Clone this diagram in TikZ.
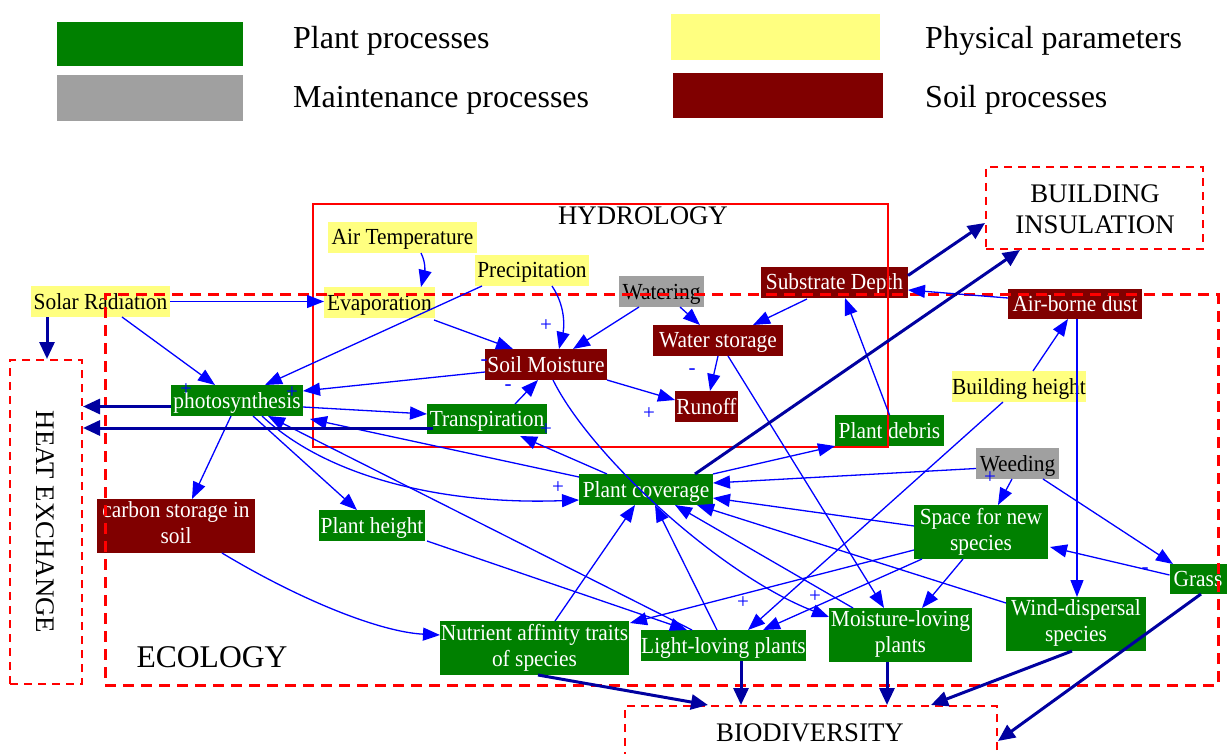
\documentclass[tikz,border=0pt]{standalone}
\usepackage{fontspec}
\setmainfont{Liberation Serif}
\newfontfamily\narrowserif[FakeStretch=0.93]{Liberation Serif}
\usetikzlibrary{arrows.meta}

\definecolor{plantgreen}{RGB}{0,128,0}
\definecolor{soilred}{RGB}{128,0,0}
\definecolor{physyellow}{RGB}{255,255,128}
\definecolor{maintgray}{RGB}{160,160,160}
\definecolor{linkblue}{RGB}{0,0,255}
\definecolor{flownavy}{RGB}{0,0,160}
\definecolor{groupred}{RGB}{255,0,0}

\newcommand\nodefont{\narrowserif\fontsize{23}{26}\selectfont}
\newcommand\signfont{\fontsize{21}{22}\selectfont}
\newcommand\groupfont{\fontsize{26.8}{31}\selectfont}
\newcommand\ecofont{\fontsize{31.6}{36}\selectfont}
\newcommand\legendfont{\fontsize{32}{38}\selectfont}

\begin{document}
\begin{tikzpicture}[x=1pt,y=-1pt,
  box/.style={rectangle, inner sep=0pt, outer sep=0pt, font=\nodefont, align=center,
              text height=17pt, text depth=2pt},
  twoline/.style={text height={}, text depth={},
                  execute at begin node={\rule{0pt}{22.5pt}},
                  execute at end node={\rule[-6pt]{0pt}{0pt}}},
  plant/.style={box, fill=plantgreen, text=white},
  soil/.style={box, fill=soilred, text=white},
  phys/.style={box, fill=physyellow, text=black},
  maint/.style={box, fill=maintgray, text=black},
  sz/.style 2 args={minimum width=#1pt, minimum height=#2pt},
  swatch/.style={rectangle, inner sep=0pt, outer sep=0pt},
  legendtext/.style={font=\legendfont, inner sep=0pt, anchor=base west},
  solidgroup/.style={rectangle, inner sep=0pt, draw=groupred, line width=2.5pt},
  dashgroup/.style={rectangle, inner sep=0pt, draw=groupred, line width=2pt, dash pattern=on 8pt off 6pt},
  ecogroup/.style={rectangle, inner sep=0pt, draw=groupred, line width=3pt, dash pattern=on 11pt off 7pt},
  grouplabel/.style={font=\groupfont, inner sep=0pt, align=center},
  link/.style={draw=linkblue, line width=1.3pt, -{Triangle[length=17pt,width=13pt]}},
  flow/.style={draw=flownavy, line width=3pt, -{Triangle[length=17pt,width=15pt]}},
  sign/.style={text=linkblue, font=\signfont, inner sep=0pt}
]
\useasboundingbox (0,0) rectangle (1227,754);

% ---------- legend ----------
\node[swatch, fill=plantgreen, sz={186}{44}] (legplant) at (150,44) {};
\node[swatch, fill=maintgray, sz={186}{46}] (legmaint) at (150,98) {};
\node[swatch, fill=physyellow, sz={209}{46}] (legphys) at (775.5,37) {};
\node[swatch, fill=soilred, sz={210}{45}] (legsoil) at (778,95.5) {};
\node[legendtext] (legplanttxt) at (293,49) {Plant processes};
\node[legendtext] (legmainttxt) at (293,108) {Maintenance processes};
\node[legendtext] (legphystxt) at (925,49) {Physical parameters};
\node[legendtext] (legsoiltxt) at (925,108) {Soil processes};

% ---------- variables ----------
\node[phys, sz={139}{31}] (solar) at (100.5,301.5) {Solar Radiation};
\node[phys, sz={149}{31}] (airtemp) at (402.5,237.5) {Air Temperature};
\node[phys, sz={111}{31}] (evap) at (379.5,302.5) {Evaporation};
\node[phys, sz={114}{31}] (precip) at (532,270.5) {Precipitation};
\node[maint, sz={85}{31}] (watering) at (661.5,291.5) {Watering};
\node[soil, sz={122}{31}] (soilm) at (546,364.5) {Soil Moisture};
\node[soil, sz={130}{31}] (waters) at (718,340.5) {Water storage};
\node[soil, sz={147}{31}] (substrate) at (834.5,282.5) {Substrate Depth};
\node[soil, sz={63}{31}] (runoff) at (706.5,406.5) {Runoff};
\node[soil, sz={134}{30}] (airdust) at (1075,304) {Air-borne dust};
\node[phys, sz={132}{31}] (bheight) at (1019,386.5) {Building height};
\node[plant, sz={109}{31}] (debris) at (889.5,430.5) {Plant debris};
\node[maint, sz={83}{31}] (weeding) at (1017.5,463.5) {Weeding};
\node[plant, twoline, sz={134}{54}] (space) at (981,532) {Space for new\\species};
\node[plant, sz={57}{30}] (grass) at (1198,579) {Grass};
\node[plant, twoline, sz={140}{54}] (wind) at (1076,624) {Wind-dispersal\\species};
\node[plant, twoline, sz={143}{54}] (moist) at (900.5,635) {Moisture-loving\\plants};
\node[plant, sz={163}{31}] (light) at (723.5,645.5) {Light-loving plants};
\node[plant, twoline, sz={189}{54}] (nutrient) at (534.5,648) {Nutrient affinity traits\\of species};
\node[plant, sz={134}{31}] (cover) at (646,489.5) {Plant coverage};
\node[plant, sz={106}{31}] (pheight) at (372,525.5) {Plant height};
\node[soil, twoline, sz={158}{54}] (carbon) at (176,526) {carbon storage in\\soil};
\node[plant, sz={132}{31}] (photo) at (237,400.5) {photosynthesis};
\node[plant, sz={120}{30}] (transp) at (487,419) {Transpiration};

% ---------- sectors ----------
\node[solidgroup, sz={575}{243}] (hydro) at (600.5,325.5) {};
\node[ecogroup, sz={1113}{390}] (ecology) at (661.5,490) {};
\node[dashgroup, sz={72}{324}] (heat) at (46,522) {};
\node[dashgroup, sz={217}{82}] (building) at (1094.5,208) {};
\node[dashgroup, sz={372}{78}] (biodiv) at (811,745) {};

\node[grouplabel] (hydrolabel) at (643,216) {HYDROLOGY};
\node[grouplabel, font=\ecofont] (ecolabel) at (212,657) {ECOLOGY};
\node[grouplabel, rotate=-90] (heatlabel) at (45,522) {HEAT EXCHANGE};
\node[grouplabel] (buildlabel) at (1095,209) {BUILDING\\INSULATION};
\node[grouplabel] (biolabel) at (810,733) {BIODIVERSITY};

% ---------- causal links ----------
\draw[link] (solar.east) -- (solar.east -| evap.west);
\draw[link] ([shift={(21.5,0)}]solar.south) -- ([shift={(-22,0)}]photo.north);
\draw[link] ([shift={(-50,0)}]precip.south) -- ([shift={(28,0)}]photo.north);
\draw[link] ([shift={(18.5,0)}]airtemp.south) .. controls +(6,12) and +(3,-12) .. ([shift={(41.5,0)}]evap.north);
\draw[link] ([shift={(-1,2)}]evap.south east) -- ([shift={(-33,0)}]soilm.north);
\draw[link] ([shift={(20,0)}]precip.south) .. controls (568,310) and (563,333) .. ([shift={(13,0)}]soilm.north);
\draw[link] ([shift={(-22.5,0)}]watering.south) -- ([shift={(27,0)}]soilm.north);
\draw[link] ([shift={(18.5,0)}]watering.south) -- ([shift={(-18,0)}]waters.north);
\draw[link] ([shift={(-27.5,1)}]substrate.south) -- ([shift={(35,0)}]waters.north);
\draw[link] (waters.south) -- ([shift={(3.5,0)}]runoff.north);
\draw[link] (soilm.south east) -- ([shift={(0,-6.5)}]runoff.west);
\draw[link] ([shift={(0,7.5)}]soilm.west) -- ([shift={(0,-9.5)}]photo.east);
\draw[link] ([shift={(28,0)}]transp.north) -- ([shift={(-8,0)}]soilm.south);
\draw[link] ([shift={(0,6.5)}]photo.east) -- ([shift={(0,-5)}]transp.west);
\draw[link] ([shift={(0,-12.5)}]cover.west) -- ([shift={(7,3)}]photo.south east);
\draw[link] ([shift={(-39,0)}]cover.north) -- ([shift={(33,2)}]transp.south);
\draw[link] ([shift={(25,0)}]photo.south) .. controls (330,480) and (450,505) .. ([shift={(0,10.5)}]cover.west);
\draw[link] ([shift={(-6,0)}]photo.south) -- ([shift={(16,0)}]carbon.north);
\draw[link] ([shift={(16,0)}]photo.south) -- ([shift={(-15,0)}]pheight.north);
\draw[link] ([shift={(-31.5,0)}]light.north) -- ([shift={(31,0)}]photo.south);
\draw[link] ([shift={(2,0)}]pheight.south east) -- ([shift={(-36.5,0)}]light.north);
\draw[link] ([shift={(46,0)}]carbon.south) .. controls (300,600) and (380,632) .. ([shift={(0,-13)}]nutrient.west);
\draw[link] ([shift={(20.5,0)}]nutrient.north) -- ([shift={(-11,0)}]cover.south);
\draw[link] ([shift={(-6.5,0)}]light.north) -- ([shift={(9,0)}]cover.south);
\draw[link] ([shift={(-47.5,0)}]moist.north) -- ([shift={(29,0)}]cover.south);
\draw[link] ([shift={(0,-21)}]wind.west) -- ([shift={(51,0)}]cover.south);
\draw[link] ([shift={(0,-6)}]space.west) -- ([shift={(0,8.5)}]cover.east);
\draw[link] ([shift={(0,5)}]weeding.west) -- ([shift={(0,-6.5)}]cover.east);
\draw[link] (cover.north east) -- (debris.south west);
\draw[link] (debris.north) -- ([shift={(10.5,0)}]substrate.south);
\draw[link] ([shift={(0,-6)}]airdust.west) -- ([shift={(0,7.5)}]substrate.east);
\draw[link] ([shift={(14,0)}]bheight.north) -- ([shift={(-7,0)}]airdust.south);
\draw[link] ([shift={(2,0)}]airdust.south) -- ([shift={(2,0)}]airdust.south |- wind.north);
\draw[link] ([shift={(-16,0)}]bheight.south) -- ([shift={(24.5,0)}]light.north);
\draw[link] ([shift={(-5.5,0)}]weeding.south) -- ([shift={(17,0)}]space.north);
\draw[link] ([shift={(25.5,0)}]weeding.south) -- ([shift={(3.5,0)}]grass.north west);
\draw[link] ([shift={(0,-4)}]grass.west) -- ([shift={(2,15)}]space.east);
\draw[link] ([shift={(-18,0)}]space.south) -- ([shift={(21.5,0)}]moist.north);
\draw[link] ([shift={(8,0)}]space.south west) -- ([shift={(39.5,0)}]light.north);
\draw[link] ([shift={(0,18)}]space.west) -- ([shift={(1,2)}]nutrient.north east);
\draw[link] ([shift={(10,0)}]waters.south) -- ([shift={(-16.5,0)}]moist.north);
\draw[link] ([shift={(7,0)}]soilm.south) .. controls (590,455) and (720,575) .. ([shift={(0,-18)}]moist.west);

% ---------- flows to the sectors ----------
\draw[flow] ([shift={(-53.5,0)}]solar.south) -- ([shift={(-53.5,0)}]solar.south |- heat.north);
\draw[flow] ([shift={(0,6)}]photo.west) -- ([shift={(0,6)}]photo.west -| heat.east);
\draw[flow] ([shift={(6,9)}]transp.west) -- ([shift={(0,9)}]transp.west -| heat.east);
\draw[flow] ([shift={(0,-7)}]substrate.east) -- ([shift={(0,15)}]building.west);
\draw[flow] ([shift={(49,0)}]cover.north) -- ([shift={(-74.5,0)}]building.south);
\draw[flow] ([shift={(3.5,0)}]nutrient.south) -- ([shift={(84,0)}]biodiv.north west);
\draw[flow] ([shift={(17.5,0)}]light.south) -- ([shift={(17.5,0)}]light.south |- biodiv.north);
\draw[flow] ([shift={(-13.5,0)}]moist.south) -- ([shift={(-13.5,0)}]moist.south |- biodiv.north);
\draw[flow] ([shift={(-4,0)}]wind.south) -- ([shift={(307,0)}]biodiv.north west);
\draw[flow] ([shift={(3,0)}]grass.south) -- ([shift={(0,36)}]biodiv.north east);

% ---------- link polarities ----------
\node[sign] (sgA) at (186,390) {+};
\node[sign] (sgB) at (292,393) {+};
\node[sign] (sgC) at (546,326) {+};
\node[sign] (sgD) at (508,388) {-};
\node[sign] (sgE) at (484,363) {-};
\node[sign] (sgF) at (649,414) {+};
\node[sign] (sgG) at (692,372) {-};
\node[sign] (sgH) at (546,430) {+};
\node[sign] (sgI) at (558,488) {+};
\node[sign] (sgJ) at (990,478) {+};
\node[sign] (sgK) at (1145,571) {-};
\node[sign] (sgL) at (743,603) {+};
\node[sign] (sgM) at (815,597) {+};
\end{tikzpicture}
\end{document}
